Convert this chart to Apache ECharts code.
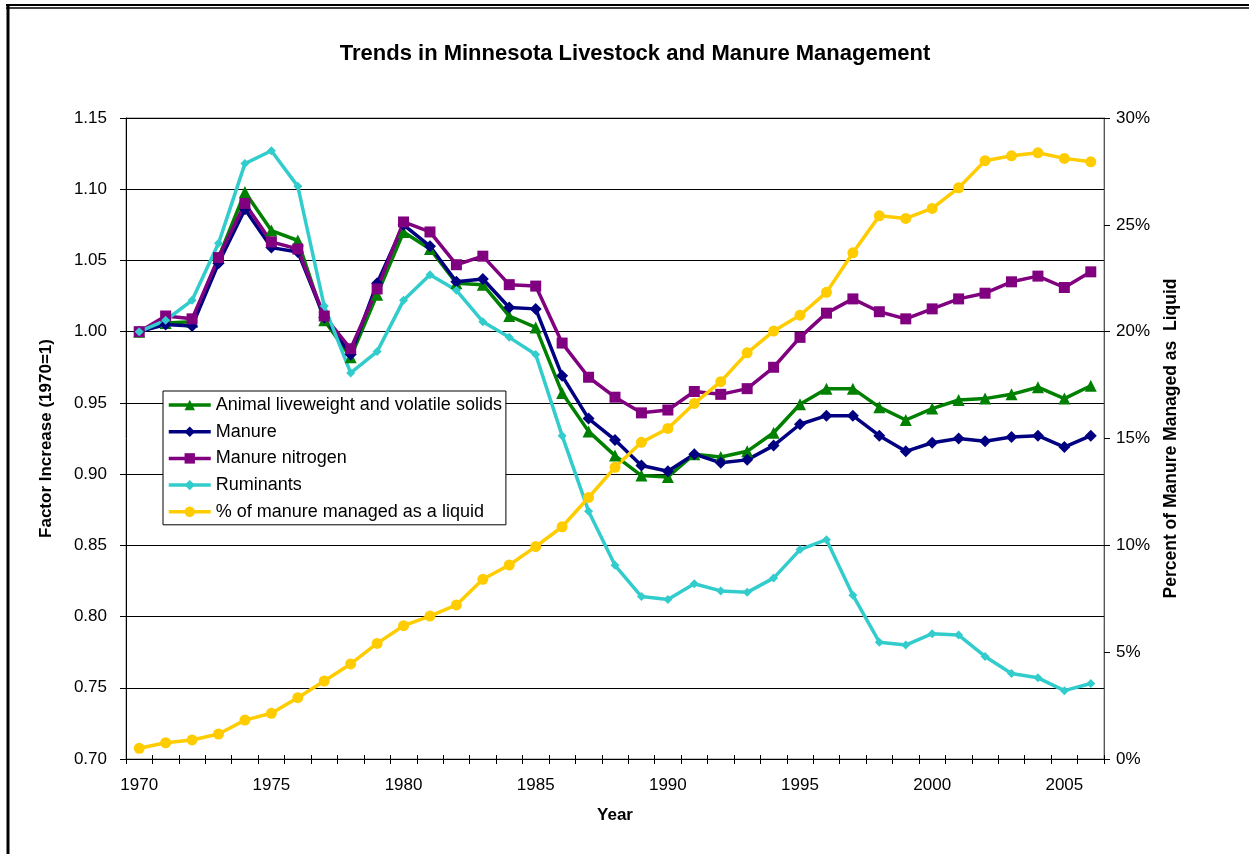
<!DOCTYPE html>
<html>
<head>
<meta charset="utf-8">
<script src="https://cdn.jsdelivr.net/npm/echarts@6/dist/echarts.min.js"></script>
<style>
html,body{margin:0;padding:0;background:#fff;}
#chart{width:1249px;height:854px;}
</style>
</head>
<body>
<div id="chart"></div>
<script>
var years = ['1970','1971','1972','1973','1974','1975','1976','1977','1978','1979','1980','1981','1982','1983','1984','1985','1986','1987','1988','1989','1990','1991','1992','1993','1994','1995','1996','1997','1998','1999','2000','2001','2002','2003','2004','2005','2006'];
var liveweight = [1.000,1.006,1.007,1.052,1.098,1.071,1.064,1.008,0.982,1.026,1.070,1.058,1.034,1.033,1.011,1.003,0.957,0.930,0.913,0.899,0.898,0.914,0.912,0.916,0.929,0.949,0.960,0.960,0.947,0.938,0.946,0.952,0.953,0.956,0.961,0.953,0.962];
var manure = [1.000,1.005,1.004,1.048,1.086,1.059,1.056,1.010,0.984,1.034,1.075,1.060,1.035,1.037,1.017,1.016,0.969,0.939,0.924,0.906,0.902,0.914,0.908,0.910,0.920,0.935,0.941,0.941,0.927,0.916,0.922,0.925,0.923,0.926,0.927,0.919,0.927];
var nitrogen = [1.000,1.011,1.009,1.052,1.090,1.063,1.058,1.011,0.988,1.030,1.077,1.070,1.047,1.053,1.033,1.032,0.992,0.968,0.954,0.943,0.945,0.958,0.956,0.960,0.975,0.996,1.013,1.023,1.014,1.009,1.016,1.023,1.027,1.035,1.039,1.031,1.042];
var ruminants = [1.000,1.008,1.022,1.062,1.118,1.127,1.102,1.018,0.971,0.986,1.022,1.040,1.029,1.007,0.996,0.984,0.927,0.874,0.836,0.814,0.812,0.823,0.818,0.817,0.827,0.847,0.854,0.815,0.782,0.780,0.788,0.787,0.772,0.760,0.757,0.748,0.753];
var liquidPct = [0.50,0.76,0.89,1.17,1.82,2.14,2.87,3.65,4.45,5.41,6.24,6.69,7.21,8.41,9.08,9.94,10.87,12.24,13.65,14.82,15.47,16.64,17.66,19.01,20.03,20.77,21.84,23.69,25.42,25.30,25.77,26.73,28.00,28.23,28.37,28.11,27.95];

var FONT = '"Liberation Sans", Arial, sans-serif';
var chart = echarts.init(document.getElementById('chart'), null, {renderer:'canvas'});
function lineSeries(name, data, color, symbol, size, yIdx){
  return {
    name: name, type: 'line', data: data, yAxisIndex: yIdx || 0,
    symbol: symbol, symbolSize: size, showSymbol: true,
    lineStyle: {color: color, width: 3.5},
    itemStyle: {color: color, borderWidth: 0},
    animation: false
  };
}
chart.setOption({
  animation: false,
  textStyle: {fontFamily: FONT, color: '#000'},
  title: {
    text: 'Trends in Minnesota Livestock and Manure Management',
    left: 630, top: 38, textAlign: 'center',
    textStyle: {fontFamily: FONT, fontSize: 22, fontWeight: 'bold', color: '#000'}
  },
  graphic: [
    {type:'line', shape:{x1:6, y1:5, x2:1249, y2:5}, style:{stroke:'#000', lineWidth:2}},
    {type:'line', shape:{x1:6, y1:8, x2:1249, y2:8}, style:{stroke:'#000', lineWidth:1.5}},
    {type:'line', shape:{x1:8, y1:4, x2:8, y2:854}, style:{stroke:'#000', lineWidth:3}}
  ],
  legend: {
    orient: 'vertical', left: 163, top: 391,
    backgroundColor: '#fff', borderColor: '#000', borderWidth: 1,
    padding: [4, 4, 3, 4],
    itemWidth: 42, itemHeight: 13, itemGap: 6.7,
    lineStyle: {width: 3.5},
    textStyle: {fontFamily: FONT, fontSize: 18, color: '#000', lineHeight: 20},
    data: ['Animal liveweight and volatile solids','Manure','Manure nitrogen','Ruminants','% of manure managed as a liquid']
  },
  grid: {left: 126, right: 145, top: 118, bottom: 95, show: true, borderColor: '#808080', borderWidth: 1},
  xAxis: [{
    type: 'category', data: years, boundaryGap: true,
    name: 'Year', nameLocation: 'middle', nameGap: 48,
    nameTextStyle: {fontFamily: FONT, fontSize: 17, fontWeight: 'bold', color: '#000', verticalAlign: 'top'},
    axisLine: {lineStyle: {color: '#000', width: 1}},
    axisTick: {show: true, interval: 0, length: 5, lineStyle: {color: '#000'}},
    axisLabel: {interval: function(i){ return i % 5 === 0; }, margin: 18, fontFamily: FONT, fontSize: 17, color: '#000'},
    splitLine: {show: false}
  }, {
    type: 'category', data: years, boundaryGap: true, position: 'bottom',
    axisLine: {show: false},
    axisTick: {show: true, inside: true, interval: 0, length: 4, lineStyle: {color: '#000'}},
    axisLabel: {show: false},
    splitLine: {show: false}
  }],
  yAxis: [{
    type: 'value', min: 0.70, max: 1.15, interval: 0.05, position: 'left',
    name: 'Factor Increase (1970=1)', nameLocation: 'middle', nameGap: 71, nameRotate: 90,
    nameTextStyle: {fontFamily: FONT, fontSize: 17, fontWeight: 'bold', color: '#000'},
    axisLine: {show: true, lineStyle: {color: '#000', width: 1}},
    axisTick: {show: true, length: 6, lineStyle: {color: '#000'}},
    axisLabel: {margin: 19, fontFamily: FONT, fontSize: 17, color: '#000', formatter: function(v){ return v.toFixed(2); }},
    splitLine: {show: true, lineStyle: {color: '#000', width: 1}}
  }, {
    type: 'value', min: 0, max: 30, interval: 5, position: 'right',
    name: 'Percent of Manure Managed as  Liquid', nameLocation: 'middle', nameGap: 58, nameRotate: 90,
    nameTextStyle: {fontFamily: FONT, fontSize: 17.5, fontWeight: 'bold', color: '#000'},
    axisLine: {show: true, lineStyle: {color: '#555', width: 1}},
    axisTick: {show: true, length: 6, lineStyle: {color: '#000'}},
    axisLabel: {margin: 12, fontFamily: FONT, fontSize: 17, color: '#000', formatter: '{value}%'},
    splitLine: {show: false}
  }],
  series: [
    lineSeries('Animal liveweight and volatile solids', liveweight, '#008000', 'triangle', 12),
    lineSeries('Manure', manure, '#000080', 'diamond', 12),
    lineSeries('Manure nitrogen', nitrogen, '#800080', 'rect', 11),
    lineSeries('Ruminants', ruminants, '#33CCCC', 'diamond', 9),
    lineSeries('% of manure managed as a liquid', liquidPct, '#FFCC00', 'circle', 11, 1)
  ]
});
</script>
</body>
</html>
